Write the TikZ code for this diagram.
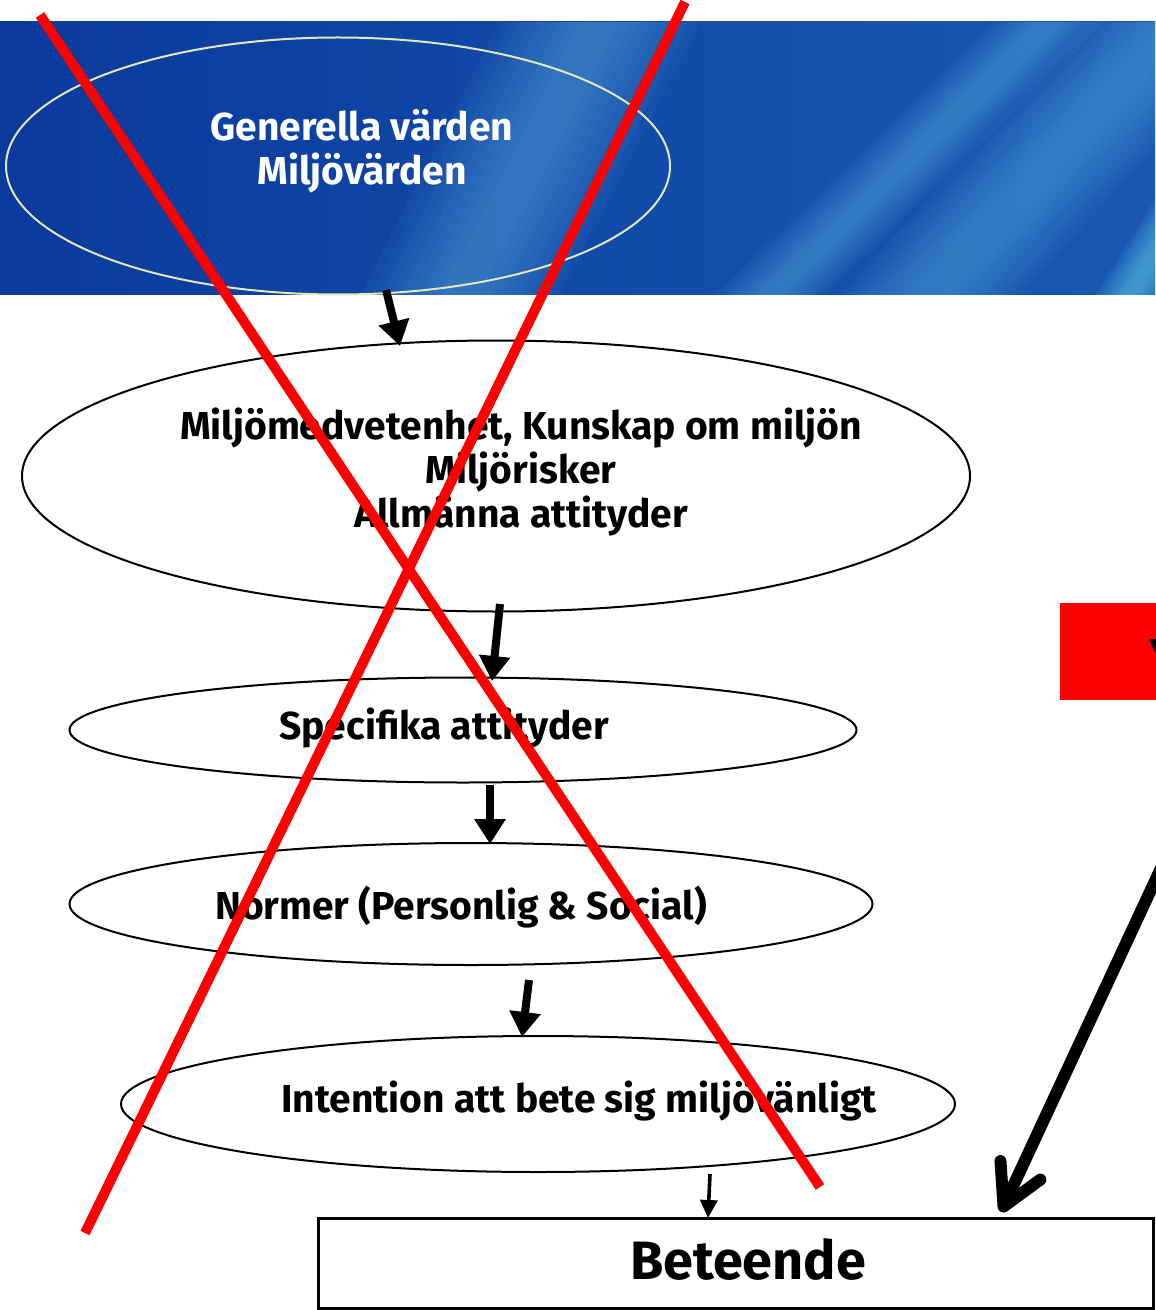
\documentclass[tikz,border=0pt]{standalone}
\usepackage{fontspec}
\setmainfont{Fira Sans}
\usetikzlibrary{arrows.meta,shapes.geometric}
\definecolor{bandL}{RGB}{10,58,156}
\definecolor{bandR}{RGB}{24,88,178}
\definecolor{streakC}{RGB}{90,170,225}
\definecolor{cyanC}{RGB}{110,225,240}
\definecolor{ringC}{RGB}{226,232,186}
\newcommand{\mystreak}[4]{%
  \foreach \k in {1,0.9,0.8,0.7,0.6,0.5,0.4,0.3,0.2}{%
    \fill[#4, opacity=0.07] (#1-#3*\k,295) -- (#1+#3*\k,295) -- (#2+#3*\k,22) -- (#2-#3*\k,22) -- cycle;}}
\begin{document}
\begin{tikzpicture}[x=0.5pt,y=-0.5pt,
  ell/.style={draw=black, line width=1pt, ellipse, inner sep=0pt},
  lbl/.style={font=\fontsize{19.5}{22}\selectfont\bfseries, align=center, inner sep=0pt},
  bigarrow/.style={line width=4pt, -{Triangle[length=12.5pt,width=15pt]}},
  thinarrow/.style={line width=1.8pt, -{Triangle[length=9pt,width=8.5pt]}},
  hugearrow/.style={line width=6pt, line cap=round, -{Straight Barb[length=20pt,width=22pt,round]}},
  cross/.style={draw=red, line width=5pt}]
\useasboundingbox (0,0) rectangle (1155,1310);
\fill[white] (0,0) rectangle (1155,1310);
% banner
\begin{scope}
  \clip (0,22) rectangle (1155,295);
  \shade[left color=bandL, right color=bandR] (0,22) rectangle (1155,295);
  \mystreak{460}{600}{100}{streakC}
  \mystreak{770}{1050}{55}{streakC}
  \mystreak{930}{1180}{90}{streakC}
  \mystreak{1130}{1300}{35}{cyanC}
\end{scope}
% ellipses
\node[ell, draw=ringC, minimum width=332pt, minimum height=128.5pt] (e1) at (338,166) {};
\node[lbl, text=white] (t1) at (362,151) {Generella värden\\Miljövärden};
\node[ell, minimum width=474pt, minimum height=135.5pt] (e2) at (496,476) {};
\node[lbl] (t2) at (521,472) {Miljömedvetenhet, Kunskap om miljön\\Miljörisker\\Allmänna attityder};
\node[ell, minimum width=393.5pt, minimum height=52.5pt] (e3) at (463,730) {};
\node[lbl] (t3) at (444,728) {Specifika attityder};
\node[ell, minimum width=401.5pt, minimum height=61pt] (e4) at (471,904) {};
\node[lbl] (t4) at (461,907) {Normer (Personlig \& Social)};
\node[ell, minimum width=417pt, minimum height=68pt] (e5) at (538,1104) {};
\node[lbl] (t5) at (579,1101) {Intention att bete sig miljövänligt};
% box
\node[draw=black, line width=1.5pt, minimum width=417.5pt, minimum height=45pt, inner sep=0pt] (box) at (735.5,1263) {};
\node[font=\fontsize{27}{30}\selectfont\bfseries, inner sep=0pt] (tb) at (748,1259) {Beteende};
% red box
\node[fill=red, minimum width=55pt, minimum height=48.5pt, inner sep=0pt, anchor=north west] (rb) at (1060,603) {};
\fill[black] (1149,639) -- (1158,639) -- (1158,658) -- cycle;
% arrow coordinates
\coordinate (a1s) at (386,290); \coordinate (a1e) at (400,346);
\coordinate (a2s) at (500,604); \coordinate (a2e) at (492,681);
\coordinate (a3s) at (490,785); \coordinate (a3e) at (490,844);
\coordinate (a4s) at (529,980); \coordinate (a4e) at (522,1037);
\coordinate (a5s) at (710,1174); \coordinate (a5e) at (708,1218);
\coordinate (hs) at (1175,838); \coordinate (he) at (1001,1212);
\draw[bigarrow] (a1s) -- (a1e);
\draw[bigarrow] (a2s) -- (a2e);
\draw[bigarrow] (a3s) -- (a3e);
\draw[bigarrow] (a4s) -- (a4e);
\draw[thinarrow] (a5s) -- (a5e);
\draw[hugearrow] (hs) -- (he);
% red cross
\coordinate (x1a) at (40,15); \coordinate (x1b) at (820,1187);
\coordinate (x2a) at (685,2); \coordinate (x2b) at (85,1233);
\draw[cross] (x1a) -- (x1b);
\draw[cross] (x2a) -- (x2b);
\end{tikzpicture}
\end{document}
